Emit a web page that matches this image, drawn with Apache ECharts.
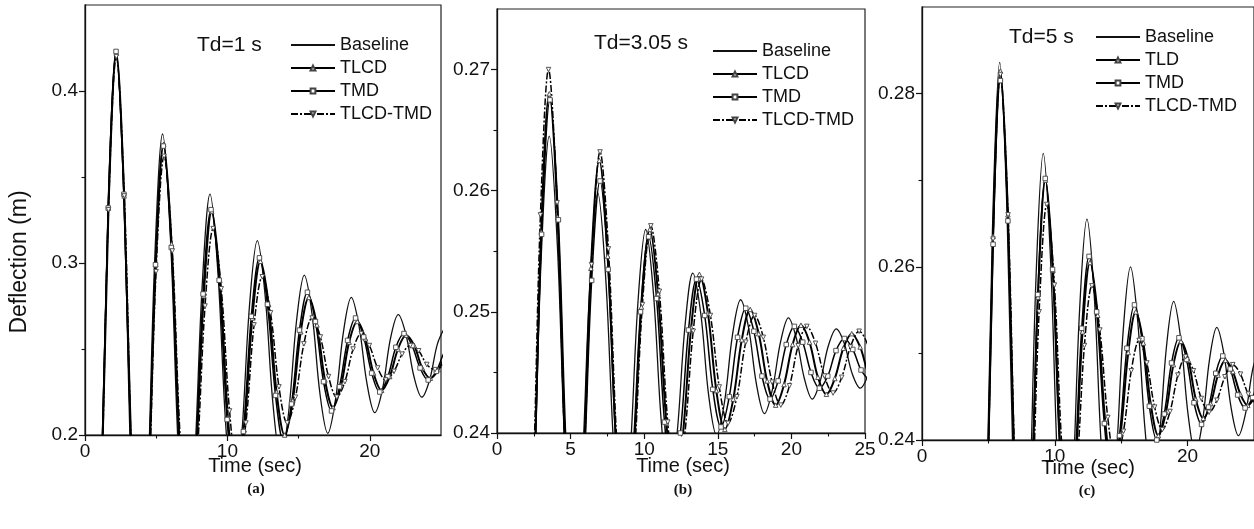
<!DOCTYPE html>
<html><head><meta charset="utf-8">
<script src="https://cdn.jsdelivr.net/npm/echarts@6/dist/echarts.min.js"></script>
<style>html,body{margin:0;padding:0;background:#fff}#c{width:1254px;height:529px}</style>
</head><body><div id="c"></div>
<script>
// ---------- Panel (a) Td = 1 s : [time (s), deflection (m)] ----------
const aBaseline = [[0.52,0.060],[1.07,0.151],[1.62,0.333],[2.17,0.424],[2.72,0.340],[3.26,0.172],[3.81,0.088],[4.36,0.160],[4.90,0.303],[5.45,0.375],[6.01,0.313],[6.56,0.190],[7.12,0.128],[7.67,0.181],[8.23,0.287],[8.78,0.340],[9.33,0.295],[9.89,0.205],[10.44,0.160],[10.99,0.198],[11.55,0.275],[12.10,0.313],[12.65,0.281],[13.20,0.218],[13.75,0.186],[14.30,0.213],[14.85,0.266],[15.40,0.293],[15.95,0.270],[16.50,0.224],[17.05,0.201],[17.60,0.221],[18.15,0.260],[18.70,0.280],[19.25,0.263],[19.80,0.230],[20.35,0.213],[20.90,0.227],[21.45,0.256],[22.00,0.270],[22.55,0.258],[23.10,0.234],[23.65,0.222],[24.20,0.232],[24.75,0.253],[25.30,0.263]];
const aTLCD = [[0.55,0.060],[1.10,0.151],[1.65,0.332],[2.20,0.422],[2.75,0.339],[3.31,0.173],[3.86,0.090],[4.41,0.160],[4.97,0.299],[5.52,0.369],[6.08,0.311],[6.65,0.194],[7.21,0.135],[7.77,0.184],[8.34,0.281],[8.90,0.330],[9.47,0.290],[10.04,0.210],[10.61,0.170],[11.18,0.203],[11.75,0.268],[12.32,0.301],[12.89,0.276],[13.45,0.225],[14.02,0.200],[14.59,0.220],[15.15,0.260],[15.72,0.280],[16.29,0.264],[16.85,0.232],[17.42,0.216],[17.99,0.229],[18.55,0.254],[19.12,0.266],[19.69,0.256],[20.26,0.236],[20.83,0.226],[21.40,0.234],[21.98,0.250],[22.55,0.258],[23.12,0.252],[23.68,0.239],[24.25,0.233],[24.82,0.238],[25.38,0.247],[25.95,0.252]];
const aTMD = [[0.53,0.060],[1.08,0.151],[1.63,0.332],[2.18,0.423],[2.73,0.340],[3.29,0.173],[3.84,0.090],[4.39,0.160],[4.95,0.299],[5.50,0.368],[6.06,0.309],[6.62,0.192],[7.18,0.133],[7.74,0.183],[8.29,0.282],[8.85,0.331],[9.42,0.290],[9.98,0.209],[10.55,0.168],[11.12,0.202],[11.68,0.269],[12.25,0.303],[12.81,0.276],[13.38,0.223],[13.94,0.196],[14.50,0.218],[15.06,0.261],[15.62,0.283],[16.18,0.266],[16.75,0.231],[17.31,0.214],[17.87,0.228],[18.44,0.255],[19.00,0.268],[19.57,0.257],[20.13,0.236],[20.70,0.225],[21.27,0.234],[21.83,0.251],[22.40,0.259],[22.97,0.252],[23.53,0.239],[24.10,0.232],[24.67,0.237],[25.23,0.248],[25.80,0.253]];
const aTLCDTMD = [[0.55,0.065],[1.10,0.154],[1.65,0.331],[2.20,0.420],[2.76,0.339],[3.32,0.176],[3.88,0.095],[4.44,0.162],[4.99,0.295],[5.55,0.362],[6.13,0.307],[6.70,0.196],[7.28,0.140],[7.85,0.185],[8.43,0.275],[9.00,0.320],[9.57,0.285],[10.15,0.214],[10.72,0.178],[11.30,0.207],[11.87,0.264],[12.45,0.292],[13.03,0.271],[13.62,0.228],[14.20,0.207],[14.78,0.222],[15.37,0.253],[15.95,0.268],[16.53,0.257],[17.10,0.234],[17.68,0.222],[18.25,0.231],[18.83,0.250],[19.40,0.259],[19.97,0.252],[20.55,0.239],[21.12,0.232],[21.70,0.237],[22.27,0.247],[22.85,0.252],[23.43,0.249],[24.00,0.241],[24.58,0.238],[25.15,0.2405],[25.73,0.2455],[26.30,0.248]];

// ---------- Panel (b) Td = 3.05 s ----------
const bBaseline = [[1.90,0.2240],[2.45,0.2341],[3.00,0.2544],[3.55,0.2645],[4.10,0.2555],[4.65,0.2375],[5.20,0.2285],[5.75,0.2363],[6.30,0.2520],[6.85,0.2598],[7.39,0.2527],[7.94,0.2386],[8.48,0.2315],[9.02,0.2378],[9.56,0.2505],[10.10,0.2568],[10.63,0.2515],[11.17,0.2408],[11.70,0.2355],[12.23,0.2399],[12.77,0.2488],[13.30,0.2532],[13.84,0.2499],[14.38,0.2431],[14.92,0.2398],[15.46,0.2426],[16.01,0.2482],[16.55,0.2510],[17.09,0.2487],[17.63,0.2440],[18.17,0.2416],[18.71,0.2436],[19.26,0.2475],[19.80,0.2495],[20.34,0.2478],[20.88,0.2445],[21.42,0.2428],[21.96,0.2443],[22.51,0.2472],[23.05,0.2486],[23.59,0.2474],[24.13,0.2449],[24.68,0.2437],[25.22,0.2448],[25.76,0.2469],[26.30,0.2479]];
const bTLCD = [[1.90,0.2225],[2.45,0.2339],[3.00,0.2566],[3.55,0.2680],[4.12,0.2578],[4.68,0.2373],[5.25,0.2270],[5.82,0.2359],[6.38,0.2536],[6.95,0.2625],[7.52,0.2546],[8.10,0.2389],[8.67,0.2310],[9.24,0.2375],[9.81,0.2504],[10.38,0.2568],[10.94,0.2515],[11.51,0.2408],[12.07,0.2355],[12.63,0.2399],[13.19,0.2487],[13.75,0.2531],[14.33,0.2499],[14.90,0.2435],[15.48,0.2403],[16.05,0.2428],[16.63,0.2477],[17.20,0.2502],[17.78,0.2482],[18.35,0.2443],[18.93,0.2423],[19.50,0.2440],[20.08,0.2473],[20.65,0.2489],[21.23,0.2475],[21.80,0.2446],[22.38,0.2432],[22.95,0.2445],[23.53,0.2470],[24.10,0.2482],[24.67,0.2471],[25.23,0.2449],[25.80,0.2438]];
const bTMD = [[1.90,0.2230],[2.47,0.2341],[3.03,0.2564],[3.60,0.2675],[4.17,0.2576],[4.73,0.2379],[5.30,0.2280],[5.87,0.2362],[6.43,0.2526],[7.00,0.2608],[7.55,0.2535],[8.10,0.2388],[8.65,0.2315],[9.20,0.2377],[9.75,0.2500],[10.30,0.2562],[10.84,0.2511],[11.38,0.2409],[11.92,0.2358],[12.46,0.2400],[13.01,0.2485],[13.55,0.2527],[14.11,0.2497],[14.66,0.2436],[15.22,0.2405],[15.78,0.2430],[16.34,0.2479],[16.90,0.2503],[17.45,0.2484],[18.00,0.2447],[18.55,0.2428],[19.10,0.2443],[19.65,0.2473],[20.20,0.2488],[20.77,0.2475],[21.33,0.2450],[21.90,0.2437],[22.47,0.2447],[23.03,0.2468],[23.60,0.2478],[24.17,0.2469],[24.73,0.2452],[25.30,0.2443]];
const bTLCDTMD = [[1.85,0.2220],[2.40,0.2340],[2.95,0.2580],[3.50,0.2700],[4.08,0.2590],[4.67,0.2370],[5.25,0.2260],[5.83,0.2353],[6.42,0.2539],[7.00,0.2632],[7.57,0.2552],[8.15,0.2391],[8.72,0.2310],[9.30,0.2375],[9.88,0.2506],[10.45,0.2571],[11.03,0.2517],[11.60,0.2409],[12.18,0.2355],[12.75,0.2398],[13.33,0.2484],[13.90,0.2527],[14.50,0.2497],[15.10,0.2438],[15.70,0.2408],[16.30,0.2430],[16.90,0.2475],[17.50,0.2497],[18.09,0.2479],[18.69,0.2442],[19.28,0.2423],[19.87,0.2439],[20.46,0.2472],[21.05,0.2488],[21.64,0.2474],[22.24,0.2447],[22.83,0.2433],[23.42,0.2446],[24.01,0.2471],[24.60,0.2484],[25.18,0.2473],[25.77,0.2449],[26.35,0.2438]];

// ---------- Panel (c) Td = 5 s ----------
const cBaseline = [[4.20,0.2050],[4.75,0.2247],[5.30,0.2640],[5.85,0.2836],[6.40,0.2664],[6.94,0.2319],[7.49,0.2147],[8.04,0.2293],[8.58,0.2585],[9.13,0.2731],[9.68,0.2608],[10.23,0.2361],[10.78,0.2237],[11.33,0.2342],[11.87,0.2551],[12.42,0.2655],[12.97,0.2567],[13.51,0.2390],[14.06,0.2302],[14.61,0.2377],[15.15,0.2526],[15.70,0.2600],[16.24,0.2538],[16.79,0.2413],[17.33,0.2350],[17.87,0.2403],[18.41,0.2508],[18.95,0.2560],[19.49,0.2516],[20.04,0.2429],[20.58,0.2385],[21.12,0.2421],[21.66,0.2494],[22.20,0.2530],[22.74,0.2499],[23.29,0.2436],[23.83,0.2405],[24.37,0.2431],[24.91,0.2482],[25.45,0.2508]];
const cTLD = [[4.25,0.2060],[4.80,0.2252],[5.35,0.2635],[5.90,0.2826],[6.47,0.2660],[7.03,0.2327],[7.60,0.2160],[8.17,0.2295],[8.73,0.2565],[9.30,0.2700],[9.86,0.2596],[10.42,0.2389],[10.98,0.2285],[11.54,0.2365],[12.09,0.2525],[12.65,0.2605],[13.23,0.2544],[13.80,0.2421],[14.38,0.2360],[14.95,0.2407],[15.53,0.2501],[16.10,0.2548],[16.67,0.2512],[17.23,0.2441],[17.80,0.2405],[18.37,0.2432],[18.93,0.2487],[19.50,0.2514],[20.06,0.2492],[20.62,0.2447],[21.18,0.2425],[21.74,0.2442],[22.29,0.2475],[22.85,0.2492],[23.41,0.2479],[23.97,0.2453],[24.53,0.2440],[25.09,0.2451],[25.64,0.2472],[26.20,0.2482]];
const cTMD = [[4.25,0.2060],[4.80,0.2249],[5.35,0.2626],[5.90,0.2815],[6.47,0.2653],[7.03,0.2328],[7.60,0.2165],[8.16,0.2299],[8.72,0.2568],[9.28,0.2702],[9.83,0.2597],[10.38,0.2386],[10.93,0.2280],[11.48,0.2363],[12.03,0.2529],[12.58,0.2612],[13.15,0.2548],[13.73,0.2419],[14.30,0.2355],[14.87,0.2405],[15.43,0.2506],[16.00,0.2556],[16.56,0.2517],[17.12,0.2439],[17.68,0.2400],[18.24,0.2430],[18.79,0.2489],[19.35,0.2518],[19.92,0.2493],[20.48,0.2443],[21.05,0.2418],[21.58,0.2438],[22.12,0.2477],[22.65,0.2497],[23.21,0.2482],[23.77,0.2452],[24.33,0.2437],[24.89,0.2449],[25.44,0.2473],[26.00,0.2485]];
const cTLCDTMD = [[4.25,0.2060],[4.80,0.2251],[5.35,0.2632],[5.90,0.2822],[6.48,0.2660],[7.07,0.2337],[7.65,0.2175],[8.23,0.2299],[8.82,0.2548],[9.40,0.2672],[9.97,0.2579],[10.53,0.2393],[11.10,0.2300],[11.67,0.2370],[12.23,0.2509],[12.80,0.2578],[13.39,0.2527],[13.99,0.2426],[14.58,0.2375],[15.17,0.2410],[15.76,0.2480],[16.35,0.2515],[16.93,0.2489],[17.52,0.2438],[18.10,0.2412],[18.68,0.2433],[19.27,0.2475],[19.85,0.2496],[20.44,0.2480],[21.03,0.2448],[21.62,0.2432],[22.21,0.2446],[22.81,0.2473],[23.40,0.2487],[23.98,0.2476],[24.57,0.2453],[25.15,0.2442]];

// ---------- Axes ticks ----------
const aXMajor = [0, 10, 20], aXMinor = [5, 15];
const aYMajor = [0.2, 0.3, 0.4], aYMinor = [0.25, 0.35];
const bXMajor = [0, 5, 10, 15, 20, 25], bXMinor = [2.5, 7.5, 12.5, 17.5, 22.5];
const bYMajor = [0.24, 0.25, 0.26, 0.27], bYMinor = [0.245, 0.255, 0.265];
const cXMajor = [0, 10, 20], cXMinor = [5, 15];
const cYMajor = [0.24, 0.26, 0.28], cYMinor = [0.25, 0.27];

const legendA = ['Baseline', 'TLCD', 'TMD', 'TLCD-TMD'];
const legendB = ['Baseline', 'TLCD', 'TMD', 'TLCD-TMD'];
const legendC = ['Baseline', 'TLD', 'TMD', 'TLCD-TMD'];

const FONT = '"Liberation Sans", Arial, sans-serif';
const chart = echarts.init(document.getElementById('c'), null, {renderer: 'canvas'});

const grids = [
  {left: 85, top: 5, width: 356, height: 430},
  {left: 497, top: 9, width: 368, height: 424},
  {left: 922, top: 7, width: 335, height: 433}
].map(g => Object.assign(g, {show: true, borderColor: '#222', borderWidth: 1.2, backgroundColor: 'transparent'}));

const ranges = [
  {x: [0, 25], y: [0.2, 0.45], xM: aXMajor, xm: aXMinor, yM: aYMajor, ym: aYMinor, yd: 1},
  {x: [0, 25], y: [0.24, 0.275], xM: bXMajor, xm: bXMinor, yM: bYMajor, ym: bYMinor, yd: 2},
  {x: [0, 25], y: [0.24, 0.29], xM: cXMajor, xm: cXMinor, yM: cYMajor, ym: cYMinor, yd: 2}
];
const labelStyle = {fontFamily: FONT, fontSize: 19, color: '#111'};
const axLine = {show: true, onZero: false, lineStyle: {color: '#111', width: 1.3}};

const xAxis = [], yAxis = [];
ranges.forEach((r, i) => {
  xAxis.push({type: 'value', gridIndex: i, position: 'bottom', min: r.x[0], max: r.x[1], interval: 5,
    axisLine: axLine, splitLine: {show: false},
    axisTick: {show: true, length: 6, lineStyle: {color: '#111', width: 1.2}, customValues: r.xM},
    axisLabel: Object.assign({margin: 7, customValues: r.xM, formatter: v => String(v)}, labelStyle)});
  yAxis.push({type: 'value', gridIndex: i, position: 'left', min: r.y[0], max: r.y[1], interval: r.yd === 1 ? 0.1 : 0.01,
    axisLine: axLine, splitLine: {show: false},
    axisTick: {show: true, length: 6, lineStyle: {color: '#111', width: 1.2}, customValues: r.yM},
    axisLabel: Object.assign({margin: 7, customValues: r.yM, formatter: v => v.toFixed(r.yd)}, labelStyle)});
});
ranges.forEach((r, i) => {
  xAxis.push({type: 'value', gridIndex: i, position: 'bottom', min: r.x[0], max: r.x[1], interval: 5,
    axisLine: {show: false}, splitLine: {show: false}, axisLabel: {show: false},
    axisTick: {show: true, length: 3.5, lineStyle: {color: '#111', width: 1.1}, customValues: r.xm}});
  yAxis.push({type: 'value', gridIndex: i, position: 'left', min: r.y[0], max: r.y[1], interval: r.yd === 1 ? 0.1 : 0.01,
    axisLine: {show: false}, splitLine: {show: false}, axisLabel: {show: false},
    axisTick: {show: true, length: 3.5, lineStyle: {color: '#111', width: 1.1}, customValues: r.ym}});
});

const styles = {
  base: {symbol: 'none', lineStyle: {color: '#111', width: 1.3},
    itemStyle: {color: 'rgba(0,0,0,0)', borderColor: 'rgba(0,0,0,0)', borderWidth: 0}},
  tlcd: {symbol: 'triangle', lineStyle: {color: '#000', width: 2}},
  tmd: {symbol: 'rect', lineStyle: {color: '#000', width: 1.5}},
  combo: {symbol: 'path://M0,0L10,0L5,9Z', lineStyle: {color: '#000', width: 1.5, type: [7, 2, 2, 2]}}
};
function mk(name, data, gi, st) {
  return Object.assign({
    type: 'line', name, data, xAxisIndex: gi, yAxisIndex: gi,
    smooth: 0.35, symbolSize: 4.5, showSymbol: true, showAllSymbol: true, clip: true,
    itemStyle: {color: '#fff', borderColor: '#444', borderWidth: 0.9},
    emphasis: {disabled: true}, silent: true
  }, st);
}
const series = [
  mk('Baseline', aBaseline, 0, styles.base), mk('TLCD', aTLCD, 0, styles.tlcd),
  mk('TMD', aTMD, 0, styles.tmd), mk('TLCD-TMD', aTLCDTMD, 0, styles.combo),
  mk('Baseline', bBaseline, 1, styles.base), mk('TLCD', bTLCD, 1, styles.tlcd),
  mk('TMD', bTMD, 1, styles.tmd), mk('TLCD-TMD', bTLCDTMD, 1, styles.combo),
  mk('Baseline', cBaseline, 2, styles.base), mk('TLD', cTLD, 2, styles.tlcd),
  mk('TMD', cTMD, 2, styles.tmd), mk('TLCD-TMD', cTLCDTMD, 2, styles.combo)
];

function lg(left, top, data) {
  return {left, top, orient: 'vertical', padding: 0, itemWidth: 44, itemHeight: 6, itemGap: 5, data,
    selectedMode: false, textStyle: {fontFamily: FONT, fontSize: 18, color: '#111'}};
}
function txt(x, y, s, size) {
  return {type: 'text', x, y, style: {text: s, fontFamily: FONT, fontSize: size, fill: '#111', verticalAlign: 'middle'}};
}
function ctr(x, y, s, size) {
  return {type: 'text', x, y, style: {text: s, fontFamily: FONT, fontSize: size, fill: '#111', align: 'center', verticalAlign: 'middle'}};
}
function cap(x, y, s) {
  return {type: 'text', x, y, style: {text: s, fontFamily: '"Liberation Serif", "Times New Roman", serif', fontWeight: 'bold', fontSize: 15, fill: '#111', align: 'center', verticalAlign: 'middle'}};
}

chart.setOption({
  animation: false,
  backgroundColor: '#fff',
  grid: grids, xAxis, yAxis, series,
  legend: [lg(290, 36, legendA), lg(712, 42, legendB), lg(1095, 28, legendC)],
  graphic: [
    txt(197, 45, 'Td=1 s', 21),
    txt(594, 43, 'Td=3.05 s', 21),
    txt(1009, 37, 'Td=5 s', 21),
    ctr(255, 466, 'Time (sec)', 20),
    ctr(683, 466, 'Time (sec)', 20),
    ctr(1088, 468, 'Time (sec)', 20),
    {type: 'text', x: 20, y: 262, rotation: Math.PI / 2,
      style: {text: 'Deflection (m)', fontFamily: FONT, fontSize: 23, fill: '#111', align: 'center', verticalAlign: 'middle'}},
    cap(256, 489, '(a)'), cap(683, 490, '(b)'), cap(1087, 491, '(c)')
  ]
});
</script></body></html>
